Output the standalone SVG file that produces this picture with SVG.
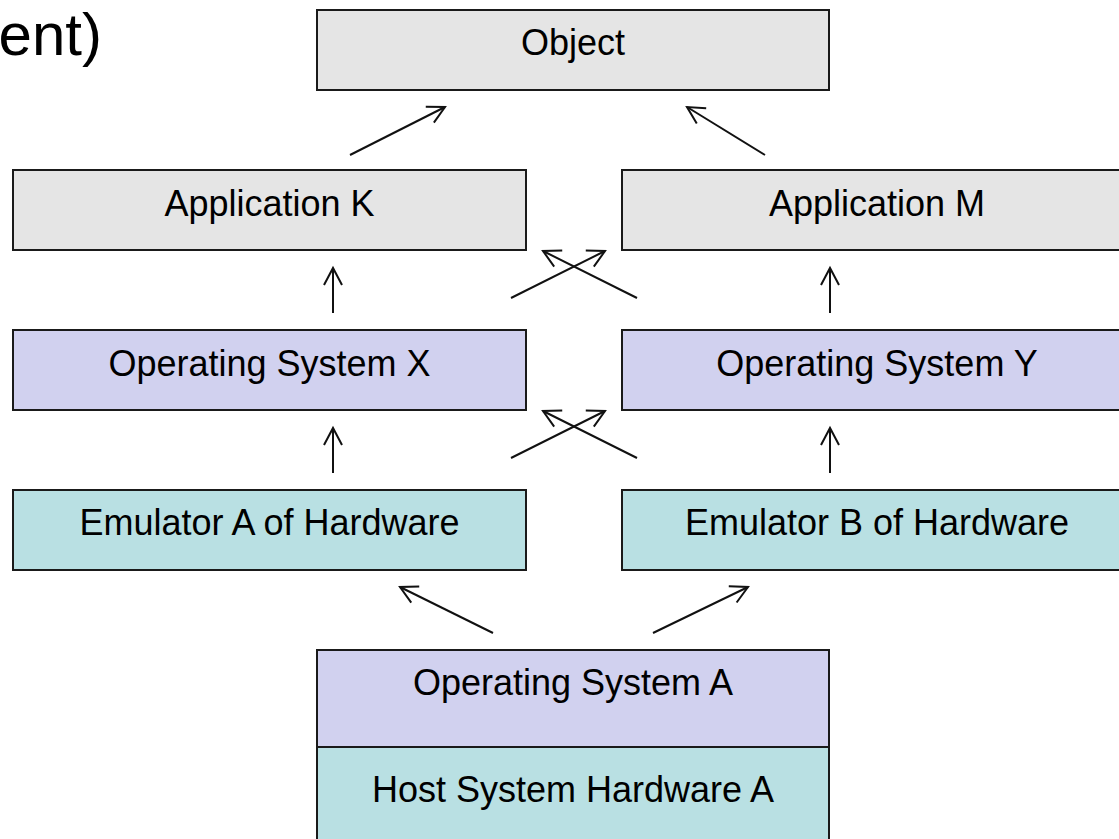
<svg xmlns="http://www.w3.org/2000/svg" width="1119" height="839" viewBox="0 0 1119 839">
<style>
.box{stroke:#1a1a1a;stroke-width:2}
.gray{fill:#e5e5e5}
.lav{fill:#d1d1ef}
.teal{fill:#b9e0e3}
.lbl{font-family:"Liberation Sans",Arial,sans-serif;font-size:36px;fill:#000;text-anchor:middle}
.conn line{stroke:#111;stroke-width:2;fill:none;marker-end:url(#arr)}
</style>
<defs>
<marker id="arr" markerUnits="userSpaceOnUse" viewBox="-20 -12 24 24" markerWidth="24" markerHeight="24" refX="0" refY="0" orient="auto">
<path d="M-17,-9 L0,0 L-17,9" fill="none" stroke="#111" stroke-width="2"/>
</marker>
</defs>
<rect width="1119" height="839" fill="#fff"/>
<text x="102" y="55" style="font-family:'Liberation Sans',Arial,sans-serif;font-size:60px;fill:#000" text-anchor="end">ent)</text>
<g id="object"><rect class="box gray" x="317" y="10" width="512" height="80"/><text class="lbl" x="573" y="55">Object</text></g>
<g id="appK"><rect class="box gray" x="13" y="170" width="513" height="80"/><text class="lbl" x="269.5" y="216">Application K</text></g>
<g id="appM"><rect class="box gray" x="622" y="170" width="520" height="80"/><text class="lbl" x="877" y="216">Application M</text></g>
<g id="osX"><rect class="box lav" x="13" y="330" width="513" height="80"/><text class="lbl" x="269.5" y="376">Operating System X</text></g>
<g id="osY"><rect class="box lav" x="622" y="330" width="520" height="80"/><text class="lbl" x="877" y="376">Operating System Y</text></g>
<g id="emuA"><rect class="box teal" x="13" y="490" width="513" height="80"/><text class="lbl" x="269.5" y="535">Emulator A of Hardware</text></g>
<g id="emuB"><rect class="box teal" x="622" y="490" width="520" height="80"/><text class="lbl" x="877" y="535">Emulator B of Hardware</text></g>
<g id="osA"><rect class="box lav" x="317" y="650" width="512" height="97"/><text class="lbl" x="573" y="695">Operating System A</text></g>
<g id="hostA"><rect class="box teal" x="317" y="747" width="512" height="110"/><text class="lbl" x="573" y="802">Host System Hardware A</text></g>
<g id="connectors" class="conn">
<line x1="350" y1="155" x2="445" y2="107"/>
<line x1="765" y1="155" x2="687" y2="107"/>
<line x1="333" y1="313" x2="333" y2="268"/>
<line x1="333" y1="473" x2="333" y2="428"/>
<line x1="830" y1="313" x2="830" y2="268"/>
<line x1="830" y1="473" x2="830" y2="428"/>
<line x1="511" y1="298" x2="605" y2="251"/>
<line x1="637" y1="298" x2="543" y2="251"/>
<line x1="511" y1="458" x2="605" y2="411"/>
<line x1="637" y1="458" x2="543" y2="411"/>
<line x1="493" y1="633" x2="400" y2="587"/>
<line x1="653" y1="633" x2="748" y2="587"/>
</g>
</svg>
